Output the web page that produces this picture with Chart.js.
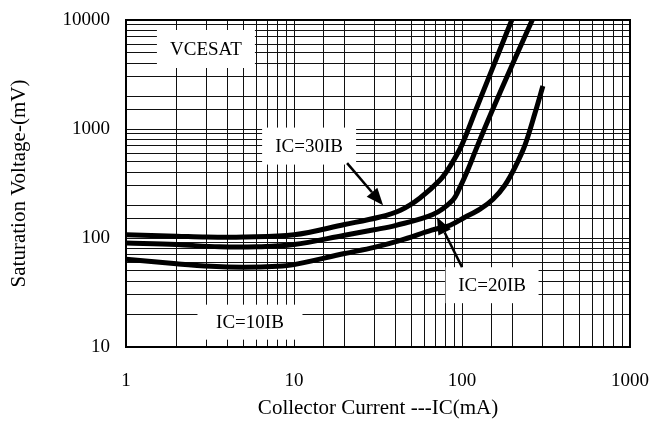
<!DOCTYPE html>
<html>
<head>
<meta charset="utf-8">
<script src="https://cdn.jsdelivr.net/npm/chart.js@4.4.0/dist/chart.umd.min.js"></script>
<style>
  html, body { margin: 0; padding: 0; background: #fff; }
  #wrap { width: 652px; height: 427px; }
</style>
</head>
<body>
<div id="wrap"><canvas id="chart"></canvas></div>
<script>
// collector current (mA) and saturation voltage (mV)
const current30 = [1, 2, 3, 5, 10, 20, 32, 43, 56, 74, 85, 100, 120, 150, 200];
const vce30     = [107, 104, 102, 102, 107, 133, 155, 180, 232, 340, 456, 719, 1455, 3435, 10430];

const current20 = [1, 2, 3.6, 6, 10, 20, 30, 40, 67, 88, 97, 110, 120, 150, 200, 262];
const vce20     = [90, 87, 83, 83, 87, 106, 119, 130, 164, 222, 290, 447, 627, 1429, 3945, 10000];

const current10 = [1, 2, 3.2, 5, 8, 10, 20, 30, 43, 66, 85, 104, 128, 153, 180, 207, 237, 272, 303];
const vce10     = [64, 58, 55, 54, 55, 57, 72, 82, 95, 118, 131, 155, 184, 227, 305, 447, 711, 1400, 2477];

const xTicks = [1, 10, 100, 1000];
const yTicks = [10, 100, 1000, 10000];

// text boxes and arrows, anchored in data units
const notes = [
  { text: 'VCESAT',  x: 2.99, y: 5420, w: 98,  h: 38 },
  { text: 'IC=30IB', x: 12.3, y: 697,  w: 94,  h: 37 },
  { text: 'IC=20IB', x: 151,  y: 36.9, w: 93,  h: 36 },
  { text: 'IC=10IB', x: 5.47, y: 16.9, w: 105, h: 35 }
];
const arrows = [
  { from: [20.7, 486], to: [33.9, 200] },
  { from: [100, 54],   to: [71, 155] }
];

const FONT = { family: 'Liberation Serif', size: 19 };
const TITLE_FONT = { family: 'Liberation Serif', size: 21 };

function pairs(xs, ys) {
  return xs.map((x, i) => ({ x: x, y: ys[i] }));
}

function tickLabel(list) {
  return v => {
    const t = list.find(t => Math.abs(t - v) < t * 1e-6);
    return t === undefined ? '' : String(t);
  };
}

function drawArrow(ctx, x1, y1, x2, y2) {
  const ang = Math.atan2(y2 - y1, x2 - x1);
  const len = 17, half = 7;
  const bx = x2 - Math.cos(ang) * len, by = y2 - Math.sin(ang) * len;
  ctx.lineWidth = 2.5;
  ctx.beginPath();
  ctx.moveTo(x1, y1);
  ctx.lineTo(bx, by);
  ctx.stroke();
  ctx.beginPath();
  ctx.moveTo(x2, y2);
  ctx.lineTo(bx + Math.sin(ang) * half, by - Math.cos(ang) * half);
  ctx.lineTo(bx - Math.sin(ang) * half, by + Math.cos(ang) * half);
  ctx.closePath();
  ctx.fill();
}

const overlay = {
  id: 'overlay',
  afterDatasetsDraw(chart) {
    const { ctx, chartArea: a, scales: { x, y } } = chart;
    ctx.save();
    ctx.strokeStyle = '#000';
    ctx.fillStyle = '#000';
    ctx.lineWidth = 2;
    ctx.strokeRect(a.left, a.top, a.right - a.left, a.bottom - a.top);

    ctx.font = FONT.size + 'px ' + FONT.family;
    ctx.textAlign = 'center';
    ctx.textBaseline = 'middle';
    notes.forEach(n => {
      const px = x.getPixelForValue(n.x), py = y.getPixelForValue(n.y);
      ctx.fillStyle = '#fff';
      ctx.fillRect(px - n.w / 2, py - n.h / 2, n.w, n.h);
      ctx.fillStyle = '#000';
      ctx.fillText(n.text, px, py + 1);
    });
    arrows.forEach(r => {
      drawArrow(ctx,
        x.getPixelForValue(r.from[0]), y.getPixelForValue(r.from[1]),
        x.getPixelForValue(r.to[0]), y.getPixelForValue(r.to[1]));
    });
    ctx.restore();
  }
};

const curve = (label, xs, ys) => ({
  label: label,
  data: pairs(xs, ys),
  borderColor: '#000',
  borderWidth: 5,
  pointRadius: 0,
  fill: false,
  tension: 0.35,
  clip: 0
});

new Chart(document.getElementById('chart'), {
  type: 'line',
  data: {
    datasets: [
      curve('IC=30IB', current30, vce30),
      curve('IC=20IB', current20, vce20),
      curve('IC=10IB', current10, vce10)
    ]
  },
  options: {
    responsive: true,
    maintainAspectRatio: false,
    animation: false,
    devicePixelRatio: 1,
    layout: { padding: { top: 20, right: 22, left: 0, bottom: 0 } },
    plugins: { legend: { display: false }, tooltip: { enabled: false } },
    scales: {
      x: {
        type: 'logarithmic',
        min: 1,
        max: 1000,
        afterFit: s => { s.height = 80; s.paddingLeft = 0; s.paddingRight = 0; },
        grid: { color: '#111', lineWidth: 1, drawTicks: false },
        border: { display: true, color: '#000', width: 2 },
        ticks: { autoSkip: false, maxRotation: 0, padding: 23, color: '#000', font: FONT, callback: tickLabel(xTicks) },
        title: { display: true, text: 'Collector Current ---IC(mA)', color: '#000', font: TITLE_FONT, padding: { top: 0, bottom: 6 } }
      },
      y: {
        type: 'logarithmic',
        min: 10,
        max: 10000,
        afterFit: s => { s.width = 126; s.paddingTop = 0; s.paddingBottom = 0; },
        grid: { color: '#111', lineWidth: 1, drawTicks: false },
        border: { display: true, color: '#000', width: 2 },
        ticks: { autoSkip: false, padding: 16, color: '#000', font: FONT, callback: tickLabel(yTicks) },
        title: { display: true, text: 'Saturation Voltage-(mV)', color: '#000', font: TITLE_FONT, padding: { top: 7, bottom: 0 } }
      }
    }
  },
  plugins: [overlay]
});
</script>
</body>
</html>
